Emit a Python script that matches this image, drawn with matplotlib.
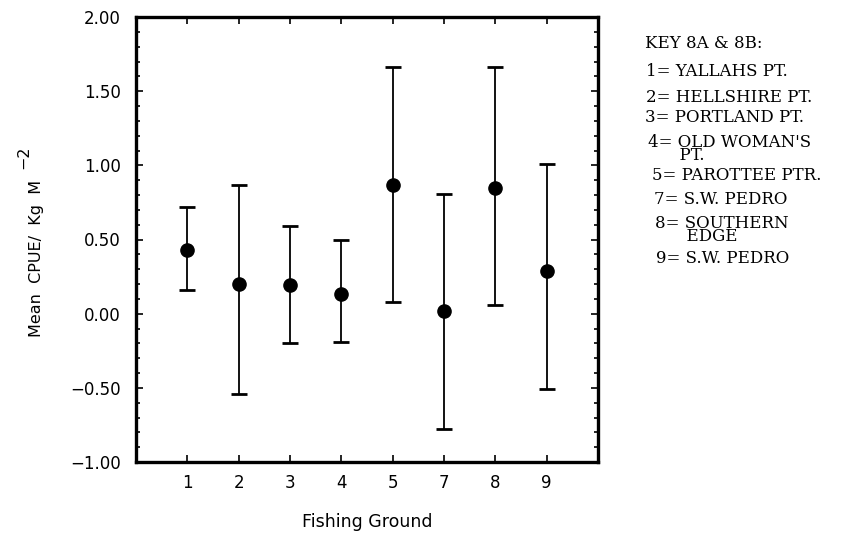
import matplotlib
matplotlib.use("Agg")
import matplotlib.pyplot as plt
from matplotlib.ticker import MultipleLocator, FuncFormatter

# Fishing grounds and mean CPUE with error ranges
grounds = ["1", "2", "3", "4", "5", "7", "8", "9"]
means = [0.43, 0.20, 0.19, 0.13, 0.87, 0.02, 0.85, 0.29]
upper = [0.72, 0.87, 0.59, 0.50, 1.66, 0.81, 1.66, 1.01]
lower = [0.16, -0.54, -0.20, -0.19, 0.08, -0.78, 0.06, -0.51]

key_title = "KEY 8A & 8B:"
key_lines = [
    "1= YALLAHS PT.",
    "2= HELLSHIRE PT.",
    "3= PORTLAND PT.",
    "4= OLD WOMAN'S\n      PT.",
    "5= PAROTTEE PTR.",
    "7= S.W. PEDRO",
    "8= SOUTHERN\n      EDGE",
    "9= S.W. PEDRO",
]

W, H = 849, 534
fig = plt.figure(figsize=(W / 100, H / 100), dpi=100)
ax = fig.add_axes([136 / W, 1 - 462 / H, (598 - 136) / W, (462 - 17) / H])

xpos = list(range(1, len(grounds) + 1))
yerr = [[m - lo for m, lo in zip(means, lower)],
        [up - m for m, up in zip(means, upper)]]
ax.errorbar(xpos, means, yerr=yerr, fmt="o", color="black", ecolor="black",
            markersize=9.5, elinewidth=1.3, capsize=6, capthick=2)

ax.set_xlim(0, 9)
ax.set_ylim(-1.0, 2.0)
ax.set_xticks(xpos)
ax.set_xticklabels(grounds)
ax.yaxis.set_major_locator(MultipleLocator(0.5))
ax.yaxis.set_minor_locator(MultipleLocator(0.1))
ax.yaxis.set_major_formatter(
    FuncFormatter(lambda v, p: f"{v:.2f}".replace("-", "\u2212")))

sans = "DejaVu Sans"
ax.tick_params(axis="both", which="both", direction="in", top=True, right=True,
               labelsize=12, width=1.2)
ax.tick_params(axis="both", which="major", length=5)
ax.tick_params(axis="y", which="minor", length=3)
ax.tick_params(axis="x", pad=9)
ax.tick_params(axis="y", pad=11)
for lab in ax.get_xticklabels() + ax.get_yticklabels():
    lab.set_family(sans)

for s in ax.spines.values():
    s.set_linewidth(2.4)

ax.set_xlabel("Fishing Ground", fontsize=12.5, family=sans, labelpad=15)

# y-axis title with its raised exponent
fig.text(37 / W, 1 - 258 / H, "Mean  CPUE/  Kg  M", fontsize=11.5,
         family=sans, rotation=90, ha="center", va="center")
fig.text(24 / W, 1 - 157 / H, "\u22122", fontsize=11.5, family=sans,
         rotation=90, ha="center", va="center")

# key to the fishing grounds
serif = ["DejaVu Serif"]
fig.text(645 / W, 1 - 43 / H, key_title, fontsize=12, family=serif,
         va="center", ha="left")
key_y = [72, 98, 118, 134, 176, 200, 215, 258]
key_x = [646, 646, 645, 648, 652, 654, 655, 656]
for txt, yy, xx in zip(key_lines, key_y, key_x):
    fig.text(xx / W, 1 - yy / H, txt, fontsize=12, family=serif,
             va="top" if "\n" in txt else "center", ha="left",
             multialignment="left", linespacing=0.72)

fig.savefig("out.png", dpi=100)
